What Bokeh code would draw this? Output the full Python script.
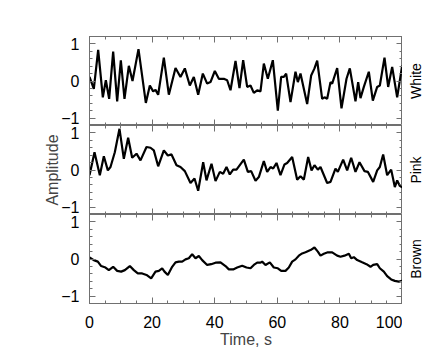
import math
from bokeh.plotting import figure
from bokeh.layouts import column, row
from bokeh.models import (LinearAxis, SingleIntervalTicker, Range1d, Label,
                          CustomJSTickFormatter)
from bokeh.embed import file_html
from bokeh.resources import INLINE

# ---------------- data ----------------
white_x = [0, 1.38, 2.77, 4.26, 5.22, 6.28, 7.56, 8.84, 10.01, 11.18,
           12.57, 13.74, 15.65, 18.0, 19.28, 20.34, 21.09, 21.94, 23.75, 25.35,
           27.48, 29.07, 30.46, 32.05, 33.33, 34.72, 36.21, 37.59, 38.66, 40.04,
           41.32, 42.92, 43.98, 45.05, 46.65, 47.92, 49.1, 50.37, 51.44, 52.5,
           53.57, 54.63, 55.7, 56.97, 58.57, 60.17, 61.23, 62.09, 62.83, 64.22,
           65.81, 66.56, 67.41, 69.54, 70.82, 71.88, 72.74, 74.33, 75.08, 75.93,
           77.0, 77.53, 79.13, 80.51, 82.11, 83.17, 84.98, 85.84, 86.58, 87.65,
           89.24, 90.52, 91.91, 92.76, 94.25, 95.42, 96.70, 98.30, 99.89]
white_y = [0.11, -0.21, 0.84, -0.44, 0.02, -0.48, 0.79, -0.55, 0.56, -0.48,
           0.41, 0.0, 0.86, -0.59, -0.12, -0.28, -0.24, -0.37, 0.63, -0.37,
           0.35, 0.11, 0.34, -0.12, 0.11, -0.37, 0.2, -0.07, -0.03, 0.27,
           0.06, 0.06, 0.02, -0.25, 0.54, -0.19, 0.56, -0.16, -0.12, -0.32,
           -0.25, -0.28, 0.47, 0.06, 0.56, -0.8, 0.11, 0.11, 0.2, -0.57,
           0.25, -0.03, 0.2, -0.62, 0.15, 0.34, 0.55, -0.48, -0.44, -0.48,
           -0.03, -0.07, 0.35, -0.74, 0.06, 0.34, -0.55, -0.03, -0.46, -0.16,
           0.25, -0.53, -0.16, -0.12, 0.63, -0.16, 0.38, -0.44, 0.41]

pink_x = [0, 1.6, 3.3, 4.58, 5.86, 6.71, 8.09, 9.58, 10.97, 12.35,
          13.63, 15.02, 16.29, 18.21, 19.49, 20.55, 21.94, 23.75, 25.03, 26.2,
          27.8, 29.07, 30.46, 32.27, 33.55, 34.72, 36.32, 37.38, 38.98, 40.26,
          41.64, 42.7, 43.77, 44.83, 45.9, 46.96, 49.31, 50.59, 51.65, 53.04,
          54.1, 55.7, 56.76, 57.83, 58.68, 59.74, 61.02, 62.3, 63.15, 64.75,
          66.35, 67.41, 68.48, 69.86, 70.93, 71.88, 72.95, 73.8, 75.93, 77.0,
          78.59, 79.34, 81.04, 82.32, 83.6, 84.98, 86.26, 87.86, 88.92, 90.63,
          91.91, 92.76, 93.82, 95.1, 96.38, 97.55, 98.3, 99.15, 99.89]
pink_y = [-0.14, 0.48, -0.14, 0.37, -0.01, 0.08, 0.48, 1.11, 0.3, 0.87,
          0.33, 0.44, 0.26, 0.62, 0.6, 0.53, 0.1, 0.53, 0.39, 0.42,
          0.13, 0.08, -0.03, -0.35, -0.23, -0.56, 0.21, -0.28, 0.17, -0.3,
          -0.05, -0.1, 0.08, -0.12, 0.01, 0.01, 0.28, -0.05, -0.03, -0.29,
          -0.19, 0.24, -0.05, 0.08, 0.04, 0.19, -0.14, 0.15, 0.19, 0.35,
          -0.26, -0.17, -0.26, 0.35, -0.01, 0.13, 0.01, 0.08, -0.35, -0.32,
          0.04, -0.05, 0.28, -0.01, 0.33, -0.05, 0.21, -0.03, -0.05, -0.32,
          -0.01, 0.08, 0.42, -0.14, 0.01, -0.46, -0.28, -0.43, -0.47]

brown_x = [0, 1.38, 2.66, 3.73, 5.11, 6.18, 7.56, 8.84, 10.12, 11.29,
           12.89, 14.16, 15.44, 16.83, 18.21, 19.7, 21.09, 22.15, 23.22, 23.96,
           25.03, 26.41, 27.48, 28.54, 29.61, 30.67, 31.74, 32.8, 33.87, 34.93,
           36.0, 37.59, 38.87, 40.26, 41.85, 43.45, 44.52, 45.9, 47.18, 48.78,
           50.16, 51.44, 52.5, 53.57, 54.63, 55.16, 56.23, 57.61, 58.89, 60.17,
           61.24, 62.62, 63.68, 64.75, 65.81, 66.88, 67.94, 69.01, 70.61, 71.88,
           72.95, 73.8, 74.87, 76.15, 77.53, 79.13, 80.19, 81.47, 82.86, 83.6,
           84.45, 85.52, 87.11, 88.5, 89.78, 90.63, 91.91, 92.76, 94.04, 95.1,
           96.38, 97.55, 98.83, 99.89]
brown_y = [0.04, -0.03, -0.07, -0.19, -0.23, -0.3, -0.21, -0.32, -0.34, -0.3,
           -0.19, -0.3, -0.39, -0.39, -0.43, -0.52, -0.34, -0.32, -0.25, -0.34,
           -0.43, -0.21, -0.09, -0.07, -0.07, -0.01, 0.02, 0.13, 0.02, 0.08,
           -0.03, -0.16, -0.14, -0.1, -0.09, -0.19, -0.28, -0.28, -0.23, -0.18,
           -0.23, -0.25, -0.16, -0.1, -0.1, -0.07, -0.16, -0.09, -0.23, -0.25,
           -0.32, -0.32, -0.23, -0.07, -0.01, 0.09, 0.15, 0.18, 0.24, 0.31,
           0.2, 0.09, 0.14, 0.18, 0.18, 0.09, 0.06, 0.09, 0.14, 0.02,
           0.05, -0.03, -0.09, -0.14, -0.21, -0.16, -0.14, -0.25, -0.34, -0.46,
           -0.55, -0.59, -0.61, -0.59]

series_names = ["White", "Pink", "Brown"]
x_limits = (0, 100)
y_limits = (-1.2, 1.2)
x_label = "Time, s"
y_label = "Amplitude"

# ---------------- styling ----------------
FONT = "Liberation Sans"
GRAY = "#707070"
FRAME_W, FRAME_H = 313, 89
LEFT = 89
TOP = 36
BOTTOM = 50
SIDE_W = 40

x_range = Range1d(*x_limits)


def style_axis(ax, labels, size="16px", standoff=10):
    ax.axis_line_color = GRAY
    ax.axis_line_width = 1
    ax.major_tick_line_color = GRAY
    ax.minor_tick_line_color = GRAY
    ax.major_tick_in = 6
    ax.major_tick_out = 0
    ax.minor_tick_in = 3
    ax.minor_tick_out = 0
    if labels:
        ax.major_label_text_font = FONT
        ax.major_label_text_font_size = size
        ax.major_label_text_color = "black"
        ax.major_label_standoff = standoff
    else:
        ax.formatter = CustomJSTickFormatter(code="return ''")
        ax.major_label_text_font_size = "0px"
        ax.major_label_standoff = 0


def yticker():
    return SingleIntervalTicker(interval=1, num_minor_ticks=5)


def xticker():
    return SingleIntervalTicker(interval=20, num_minor_ticks=4)


def panel(xs, ys, top, bottom, show_x=False, show_ylabel=False):
    p = figure(frame_width=FRAME_W, frame_height=FRAME_H,
               x_range=x_range, y_range=Range1d(*y_limits),
               x_axis_type=None, y_axis_type=None,
               output_backend="svg", toolbar_location=None,
               min_border_left=LEFT, min_border_right=0,
               min_border_top=top, min_border_bottom=bottom)
    p.outline_line_color = GRAY
    p.background_fill_color = "white"
    p.border_fill_color = "white"

    left = LinearAxis(ticker=yticker(), major_label_overrides={-1: "\u22121"})
    style_axis(left, True, standoff=10)
    if show_ylabel:
        left.axis_label = y_label
        left.axis_label_text_font = FONT
        left.axis_label_text_font_size = "16px"
        left.axis_label_text_font_style = "normal"
        left.axis_label_standoff = -3
    p.add_layout(left, "left")

    right = LinearAxis(ticker=yticker())
    style_axis(right, False)
    p.add_layout(right, "right")

    above = LinearAxis(ticker=xticker())
    style_axis(above, False)
    p.add_layout(above, "above")

    below = LinearAxis(ticker=xticker())
    if show_x:
        style_axis(below, True, standoff=12)
        below.axis_label = x_label
        below.axis_label_text_font = FONT
        below.axis_label_text_font_size = "16px"
        below.axis_label_text_font_style = "normal"
        below.axis_label_standoff = 0
    else:
        style_axis(below, False)
    p.add_layout(below, "below")

    p.line(xs, ys, line_color="black", line_width=2.2)
    return p


def side_label(name, top, bottom):
    s = figure(frame_width=SIDE_W, frame_height=FRAME_H,
               x_range=Range1d(0, SIDE_W), y_range=Range1d(-1, 1),
               x_axis_type=None, y_axis_type=None,
               output_backend="svg", toolbar_location=None,
               min_border_left=0, min_border_right=0,
               min_border_top=top, min_border_bottom=bottom)
    s.outline_line_color = None
    s.border_fill_color = "white"
    s.add_layout(Label(x=13.5, y=0, text=name, angle=math.pi / 2,
                       text_align="center", text_baseline="middle",
                       text_font=FONT, text_font_size="14px",
                       text_color="black"))
    return s


p1 = panel(white_x, white_y, top=TOP, bottom=0)
p2 = panel(pink_x, pink_y, top=0, bottom=0, show_ylabel=True)
p3 = panel(brown_x, brown_y, top=0, bottom=BOTTOM, show_x=True)

s1 = side_label(series_names[0], TOP, 0)
s2 = side_label(series_names[1], 0, 0)
s3 = side_label(series_names[2], 0, BOTTOM)

layout = column(row(p1, s1, spacing=0), row(p2, s2, spacing=0),
                row(p3, s3, spacing=0), spacing=0)

open("out.html", "w").write(file_html(layout, INLINE))
